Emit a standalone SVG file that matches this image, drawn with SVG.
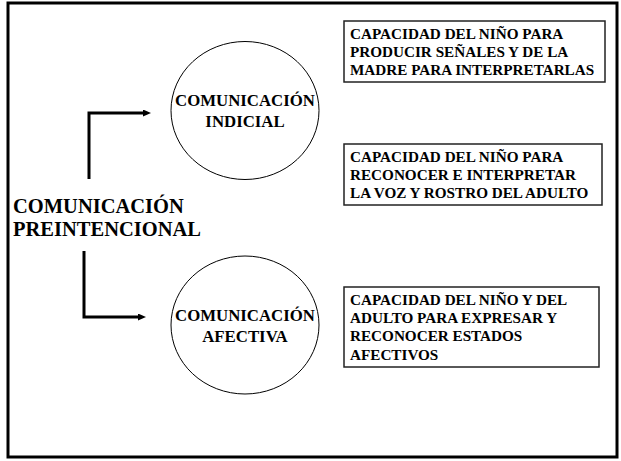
<svg xmlns="http://www.w3.org/2000/svg" width="621" height="461" viewBox="0 0 621 461">
<style>
.t{font-family:"Liberation Serif","Times New Roman",serif;font-weight:bold;fill:#000}
.box{fill:#fff;stroke:#222;stroke-width:1.5}
.circ{fill:#fff;stroke:#000;stroke-width:1}
.conn{fill:none;stroke:#000;stroke-width:3}
</style>
<defs>
<marker id="ah" markerWidth="8" markerHeight="7" refX="0" refY="3.5" orient="auto" markerUnits="userSpaceOnUse">
<path d="M0,0 L8,3.5 L0,7 Z" fill="#000"/>
</marker>
</defs>
<rect x="0" y="0" width="621" height="461" fill="#fff"/>
<rect x="8" y="3" width="609" height="454" fill="none" stroke="#000" stroke-width="3"/>
<g id="main">
<text class="t" x="13" y="213" font-size="20.5">COMUNICACIÓN</text>
<text class="t" x="13" y="236" font-size="20.5">PREINTENCIONAL</text>
</g>
<g id="connectors">
<path class="conn" d="M89,179 V113 H143" marker-end="url(#ah)"/>
<path class="conn" d="M84,251 V317 H138" marker-end="url(#ah)"/>
</g>
<g id="indicial">
<ellipse class="circ" cx="245" cy="110.5" rx="74" ry="69"/>
<text class="t" x="245" y="106" font-size="16.8" text-anchor="middle">COMUNICACIÓN</text>
<text class="t" x="245" y="127" font-size="16.8" text-anchor="middle">INDICIAL</text>
</g>
<g id="afectiva">
<ellipse class="circ" cx="245" cy="325" rx="74" ry="69"/>
<text class="t" x="245" y="321" font-size="16.8" text-anchor="middle">COMUNICACIÓN</text>
<text class="t" x="245" y="342" font-size="16.8" text-anchor="middle">AFECTIVA</text>
</g>
<g id="box1">
<rect class="box" x="344" y="21" width="261" height="61"/>
<text class="t" x="350" y="39" font-size="15.2">CAPACIDAD DEL NIÑO PARA</text>
<text class="t" x="350" y="57" font-size="15.2">PRODUCIR SEÑALES Y DE LA</text>
<text class="t" x="350" y="75" font-size="15.2">MADRE PARA INTERPRETARLAS</text>
</g>
<g id="box2">
<rect class="box" x="344" y="144" width="258" height="61"/>
<text class="t" x="350" y="162" font-size="15.2">CAPACIDAD DEL NIÑO PARA</text>
<text class="t" x="350" y="180" font-size="15.2">RECONOCER E INTERPRETAR</text>
<text class="t" x="350" y="198" font-size="15.2">LA VOZ Y ROSTRO DEL ADULTO</text>
</g>
<g id="box3">
<rect class="box" x="344" y="287" width="255" height="80"/>
<text class="t" x="350" y="305" font-size="15.2">CAPACIDAD DEL NIÑO Y DEL</text>
<text class="t" x="350" y="323" font-size="15.2">ADULTO PARA EXPRESAR Y</text>
<text class="t" x="350" y="341" font-size="15.2">RECONOCER ESTADOS</text>
<text class="t" x="350" y="360" font-size="15.2">AFECTIVOS</text>
</g>
</svg>
